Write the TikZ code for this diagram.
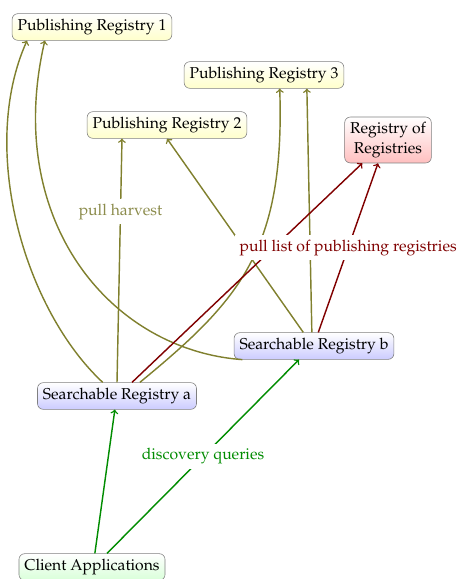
\documentclass[tikz,border=0pt]{standalone}
\usepackage[T1]{fontenc}
\usepackage{mathpazo}
\usetikzlibrary{positioning}

\definecolor{harvest}{rgb}{0.50,0.50,0.18}
\definecolor{harvestlabel}{rgb}{0.55,0.55,0.30}
\definecolor{listred}{rgb}{0.50,0.00,0.00}
\definecolor{querygreen}{rgb}{0.00,0.55,0.00}

\begin{document}
\begin{tikzpicture}[x=0.7pt,y=-0.7pt,font=\fontsize{11}{13.5}\selectfont,
	box/.style={draw=gray,rounded corners=4pt,inner sep=3.8pt,top color=white},
	pubbox/.style={box,bottom color=yellow!20},
	searchbox/.style={box,bottom color=blue!20},
	rorbox/.style={box,bottom color=red!25,align=center},
	clientbox/.style={box,bottom color=green!15},
	harvestline/.style={draw=harvest,line width=1pt,->},
	listline/.style={draw=listred,line width=1pt,->},
	queryline/.style={draw=querygreen,line width=1pt,->}]
	\useasboundingbox (0,0) rectangle (458,579);

	\node[pubbox] (pub1) at (92,27) {Publishing Registry 1};
	\node[pubbox] (pub2) at (167,125) {Publishing Registry 2};
	\node[pubbox] (pub3) at (264,75) {Publishing Registry 3};
	\node[rorbox] (ror) at (388,140) {Registry of\\Registries};
	\node[searchbox] (srb) at (314,346) {Searchable Registry b};
	\node[searchbox] (sra) at (117,396) {Searchable Registry a};
	\node[clientbox] (client) at (92,567) {Client Applications};

	% harvesting
	\draw[harvestline] ([xshift=-10pt]sra.north) .. controls (25,310) and (-22,150) .. ([xshift=-45.5pt]pub1.south);
	\draw[harvestline] ([xshift=6pt]srb.south west) .. controls (110,350) and (3,220) .. ([xshift=-33pt]pub1.south);
	\draw[harvestline] ([xshift=16pt]sra.north) .. controls (240,300) and (285,250) .. ([xshift=11pt]pub3.south);
	\draw[harvestline] ([xshift=-1.5pt]srb.north) -- ([xshift=30pt]pub3.south);
	\draw[harvestline] ([xshift=-7.5pt]srb.north) -- (pub2.south);
	\draw[harvestline] (sra.north) -- node[pos=0.7,fill=white,text=harvestlabel] {pull harvest} ([xshift=-31.5pt]pub2.south);

	% list of registries
	\draw[listline] ([xshift=10.5pt]sra.north) -- ([xshift=-18pt]ror.south);
	\draw[listline] ([xshift=3pt]srb.north) -- node[midway,fill=white,text=listred] {pull list of publishing registries} ([xshift=-7pt]ror.south);

	% queries
	\draw[queryline] ([xshift=2pt]client.north) -- ([xshift=-1.5pt]sra.south);
	\draw[queryline] ([xshift=10.5pt]client.north) -- node[midway,fill=white,text=querygreen] {discovery queries} ([xshift=-10.5pt]srb.south);
\end{tikzpicture}
\end{document}
